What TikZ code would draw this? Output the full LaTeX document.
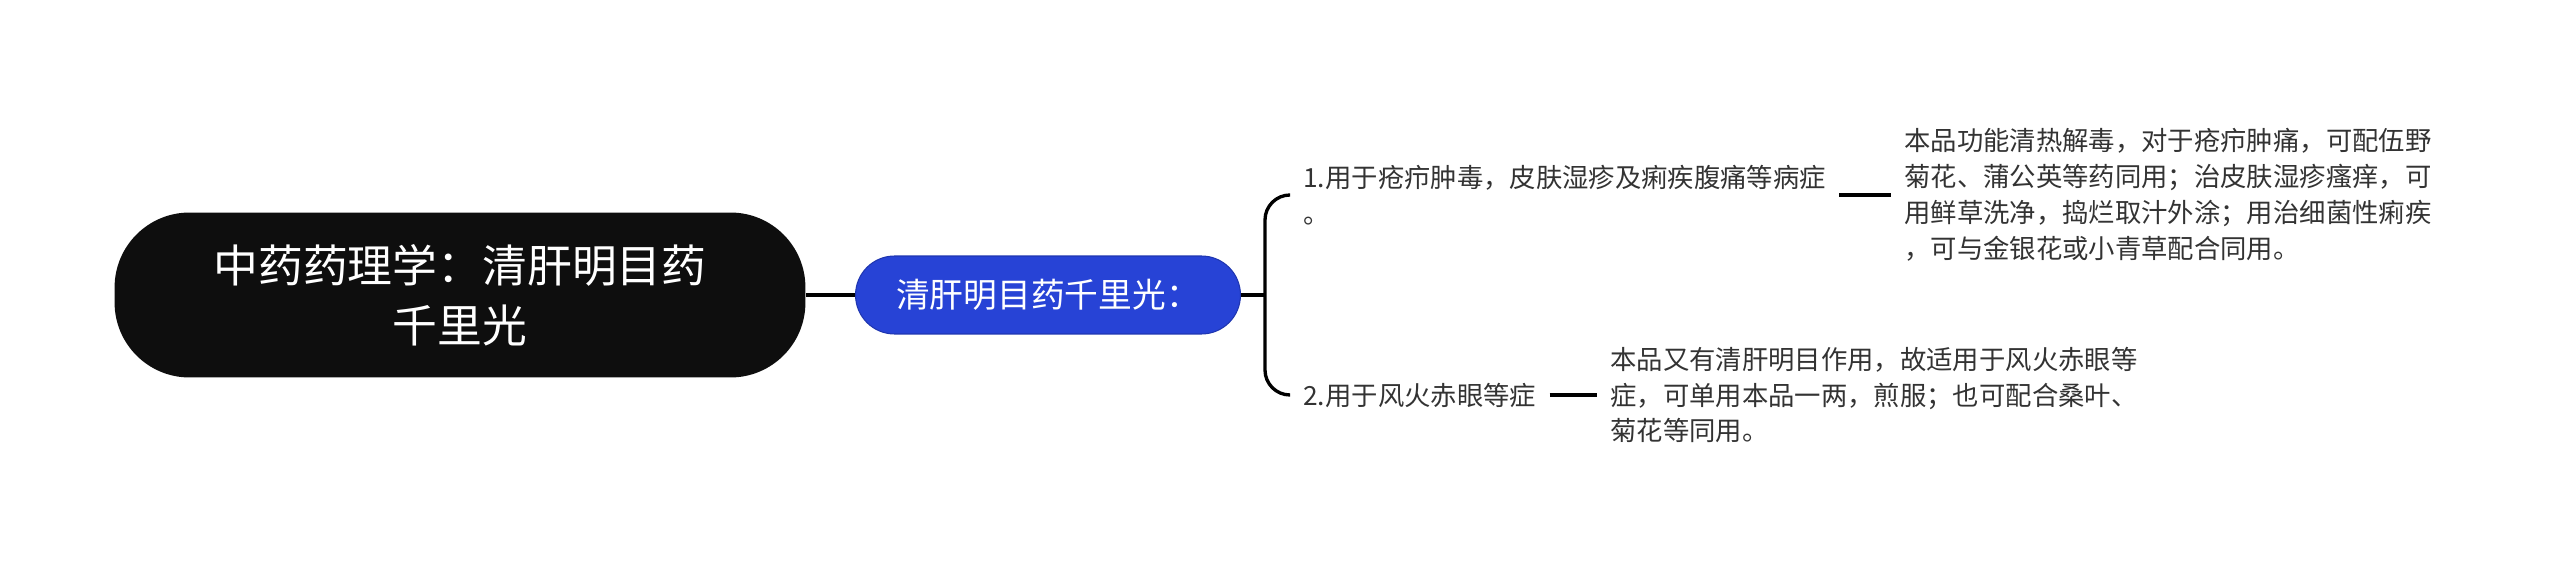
\documentclass[tikz,border=0pt]{standalone}
\usepackage{fontspec}
\setmainfont{Noto Sans CJK SC}
\usepackage{tikz}
\usepackage{xcolor}

\definecolor{rootfill}{HTML}{0E0E0E}
\definecolor{topicblue}{HTML}{2743D6}
\definecolor{topicedge}{HTML}{1F36B0}
\definecolor{leaftext}{HTML}{333333}

\tikzset{
    link/.style={line width=1.9pt, black},
    leafnode/.style={anchor=west, align=left, text=leaftext, inner xsep=0.26cm, inner ysep=2pt,
        font=\fontsize{15}{20.4}\selectfont},
}

\begin{document}
\begin{tikzpicture}[x=0.02cm, y=-0.02cm]
    \useasboundingbox (0,0) rectangle (2560,573);
    % root and main topic
    \node[fill=rootfill, text=white, rounded corners=1.5cm, minimum width=13.82cm, minimum height=3.3cm,
        align=center, font=\fontsize{25.5}{34}\selectfont] (root) at (460,295) {中药药理学：清肝明目药\\千里光};
    \node[fill=topicblue, draw=topicedge, line width=0.6pt, text=white, rounded corners=0.78cm,
        minimum width=7.7cm, minimum height=1.56cm, font=\fontsize{19.2}{23}\selectfont] (topic) at (1048,295) {清肝明目药千里光：};
    \draw[link] (root.east) -- (topic.west);
    % branches
    \node[leafnode] (b1) at (1290,195) {1.用于疮疖肿毒，皮肤湿疹及痢疾腹痛等病症\\。};
    \node[leafnode] (b2) at (1290,395) {2.用于风火赤眼等症};
    \coordinate (fork) at (1265,295);
    \draw[link] (topic.east) -- (fork);
    \draw[link, rounded corners=0.5cm] (b1.west) -| (fork) |- (b2.west);
    % details
    \node[leafnode] (leafa) at (1891,195) {本品功能清热解毒，对于疮疖肿痛，可配伍野\\菊花、蒲公英等药同用；治皮肤湿疹瘙痒，可\\用鲜草洗净，捣烂取汁外涂；用治细菌性痢疾\\，可与金银花或小青草配合同用。};
    \node[leafnode] (leafb) at (1597,395) {本品又有清肝明目作用，故适用于风火赤眼等\\症，可单用本品一两，煎服；也可配合桑叶、\\菊花等同用。};
    \draw[link] (b1.east) -- (leafa.west);
    \draw[link] (b2.east) -- (leafb.west);
\end{tikzpicture}
\end{document}
